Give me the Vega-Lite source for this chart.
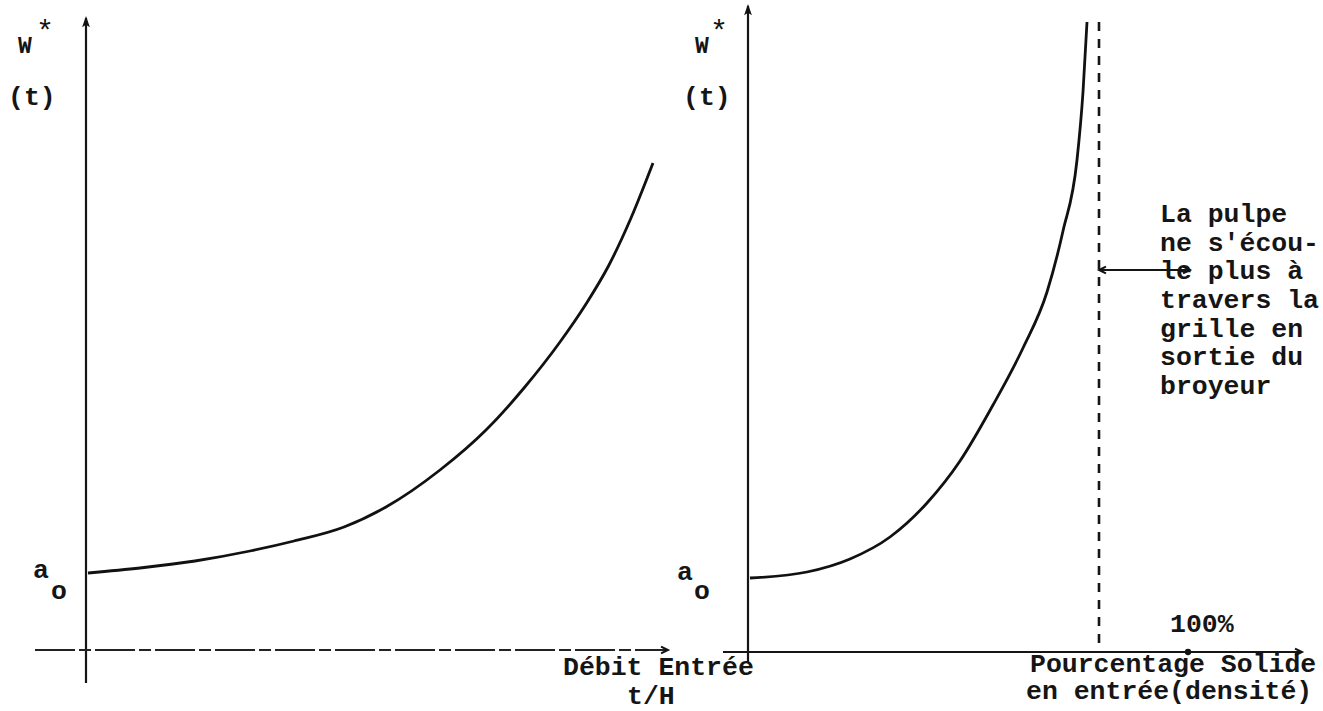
{
  "$schema": "https://vega.github.io/schema/vega-lite/v6.json",
  "width": 1323,
  "height": 711,
  "padding": 0,
  "autosize": {"type": "fit", "contains": "padding"},
  "background": "#ffffff",
  "config": {"view": {"stroke": null}},
  "datasets": {
    "segments": [
      {"name": "left y axis", "x": 86, "y": 18, "x2": 86, "y2": 683},
      {"name": "right y axis", "x": 748, "y": 6, "x2": 748, "y2": 662},
      {"name": "right x axis", "x": 723, "y": 652, "x2": 1300, "y2": 652},
      {"name": "double arrow", "x": 1100, "y": 270, "x2": 1188, "y2": 270}
    ],
    "dashedsegments": [
      {"name": "left x axis", "x": 35, "y": 650, "x2": 666, "y2": 650}
    ],
    "limit": [
      {"name": "limit", "x": 1099, "y": 22, "x2": 1099, "y2": 652}
    ],
    "curves": [
      {"curve": "debit", "x": 88, "y": 573},
      {"curve": "debit", "x": 140, "y": 568},
      {"curve": "debit", "x": 195, "y": 561},
      {"curve": "debit", "x": 250, "y": 551},
      {"curve": "debit", "x": 294, "y": 541},
      {"curve": "debit", "x": 344, "y": 527},
      {"curve": "debit", "x": 386, "y": 507},
      {"curve": "debit", "x": 440, "y": 470},
      {"curve": "debit", "x": 486, "y": 430},
      {"curve": "debit", "x": 524, "y": 388},
      {"curve": "debit", "x": 560, "y": 342},
      {"curve": "debit", "x": 586, "y": 304},
      {"curve": "debit", "x": 609, "y": 265},
      {"curve": "debit", "x": 631, "y": 218},
      {"curve": "debit", "x": 653, "y": 163},
      {"curve": "solide", "x": 750, "y": 578},
      {"curve": "solide", "x": 807, "y": 572},
      {"curve": "solide", "x": 850, "y": 559},
      {"curve": "solide", "x": 890, "y": 537},
      {"curve": "solide", "x": 927, "y": 503},
      {"curve": "solide", "x": 960, "y": 461},
      {"curve": "solide", "x": 993, "y": 405},
      {"curve": "solide", "x": 1023, "y": 348},
      {"curve": "solide", "x": 1047, "y": 292},
      {"curve": "solide", "x": 1063, "y": 231},
      {"curve": "solide", "x": 1077, "y": 160},
      {"curve": "solide", "x": 1083, "y": 92},
      {"curve": "solide", "x": 1087, "y": 22}
    ],
    "uparrows": [
      {"x": 86, "y": 16},
      {"x": 748, "y": 4}
    ],
    "rightarrows": [
      {"x": 668, "y": 650},
      {"x": 1302, "y": 652},
      {"x": 1190, "y": 270}
    ],
    "leftarrows": [
      {"x": 1099, "y": 270}
    ],
    "dots": [
      {"x": 1188, "y": 652}
    ],
    "bigtext": [
      {"text": "(t)", "x": 8, "y": 105},
      {"text": "(t)", "x": 683, "y": 105},
      {"text": "a", "x": 33, "y": 578},
      {"text": "o", "x": 51, "y": 599},
      {"text": "a", "x": 677, "y": 580},
      {"text": "o", "x": 694, "y": 599},
      {"text": "Débit Entrée", "x": 563, "y": 675},
      {"text": "t/H", "x": 627, "y": 704},
      {"text": "Pourcentage Solide", "x": 1030, "y": 672},
      {"text": "en entrée(densité)", "x": 1026, "y": 699},
      {"text": "100%", "x": 1170, "y": 632},
      {"text": "La pulpe", "x": 1160, "y": 222},
      {"text": "ne s'écou-", "x": 1160, "y": 251},
      {"text": "le plus à", "x": 1160, "y": 279},
      {"text": "travers la", "x": 1160, "y": 308},
      {"text": "grille en", "x": 1160, "y": 337},
      {"text": "sortie du", "x": 1160, "y": 365},
      {"text": "broyeur", "x": 1160, "y": 394}
    ],
    "wtext": [
      {"text": "W", "x": 18, "y": 53},
      {"text": "W", "x": 695, "y": 53}
    ],
    "startext": [
      {"text": "*", "x": 36, "y": 41},
      {"text": "*", "x": 710, "y": 41}
    ]
  },
  "layer": [
    {
      "data": {"name": "segments"},
      "mark": {"type": "rule", "color": "#151515", "strokeWidth": 2.2},
      "encoding": {
        "x": {"field": "x", "type": "quantitative", "axis": null, "scale": {"domain": [0, 1323], "nice": false, "zero": false}},
        "y": {"field": "y", "type": "quantitative", "axis": null, "scale": {"domain": [0, 711], "reverse": true, "nice": false, "zero": false}},
        "x2": {"field": "x2"},
        "y2": {"field": "y2"}
      }
    },
    {
      "data": {"name": "dashedsegments"},
      "mark": {"type": "rule", "color": "#222222", "strokeWidth": 2, "strokeDash": [40, 4, 12, 4]},
      "encoding": {
        "x": {"field": "x", "type": "quantitative"},
        "y": {"field": "y", "type": "quantitative"},
        "x2": {"field": "x2"},
        "y2": {"field": "y2"}
      }
    },
    {
      "data": {"name": "limit"},
      "mark": {"type": "rule", "color": "#151515", "strokeWidth": 2.6, "strokeDash": [9, 8]},
      "encoding": {
        "x": {"field": "x", "type": "quantitative"},
        "y": {"field": "y", "type": "quantitative"},
        "x2": {"field": "x2"},
        "y2": {"field": "y2"}
      }
    },
    {
      "data": {"name": "curves"},
      "mark": {"type": "line", "color": "#111111", "strokeWidth": 2.8, "interpolate": "monotone"},
      "encoding": {
        "x": {"field": "x", "type": "quantitative"},
        "y": {"field": "y", "type": "quantitative"},
        "detail": {"field": "curve"}
      }
    },
    {
      "data": {"name": "uparrows"},
      "mark": {"type": "point", "shape": "M0,0L-0.45,1.3L0,1.0L0.45,1.3Z", "filled": true, "color": "#111111", "size": 300, "opacity": 1},
      "encoding": {
        "x": {"field": "x", "type": "quantitative"},
        "y": {"field": "y", "type": "quantitative"}
      }
    },
    {
      "data": {"name": "bigtext"},
      "mark": {"type": "text", "font": "Liberation Mono", "fontWeight": "bold", "fontSize": 26.5, "align": "left", "baseline": "alphabetic", "color": "#151515"},
      "encoding": {
        "x": {"field": "x", "type": "quantitative"},
        "y": {"field": "y", "type": "quantitative"},
        "text": {"field": "text"}
      }
    },
    {
      "data": {"name": "rightarrows"},
      "mark": {"type": "point", "shape": "M-1.1,-0.55L0,0L-1.1,0.55", "filled": false, "color": "#111111", "strokeWidth": 2, "size": 160, "opacity": 1},
      "encoding": {
        "x": {"field": "x", "type": "quantitative"},
        "y": {"field": "y", "type": "quantitative"}
      }
    },
    {
      "data": {"name": "leftarrows"},
      "mark": {"type": "point", "shape": "M1.1,-0.55L0,0L1.1,0.55", "filled": false, "color": "#111111", "strokeWidth": 2, "size": 160, "opacity": 1},
      "encoding": {
        "x": {"field": "x", "type": "quantitative"},
        "y": {"field": "y", "type": "quantitative"}
      }
    },
    {
      "data": {"name": "dots"},
      "mark": {"type": "point", "shape": "circle", "filled": true, "color": "#111111", "size": 40, "opacity": 1},
      "encoding": {
        "x": {"field": "x", "type": "quantitative"},
        "y": {"field": "y", "type": "quantitative"}
      }
    },
    {
      "data": {"name": "wtext"},
      "mark": {"type": "text", "font": "Liberation Mono", "fontWeight": "bold", "fontSize": 23, "align": "left", "baseline": "alphabetic", "color": "#151515"},
      "encoding": {
        "x": {"field": "x", "type": "quantitative"},
        "y": {"field": "y", "type": "quantitative"},
        "text": {"field": "text"}
      }
    },
    {
      "data": {"name": "startext"},
      "mark": {"type": "text", "font": "Liberation Mono", "fontWeight": "normal", "fontSize": 30, "align": "left", "baseline": "alphabetic", "color": "#151515"},
      "encoding": {
        "x": {"field": "x", "type": "quantitative"},
        "y": {"field": "y", "type": "quantitative"},
        "text": {"field": "text"}
      }
    }
  ]
}
